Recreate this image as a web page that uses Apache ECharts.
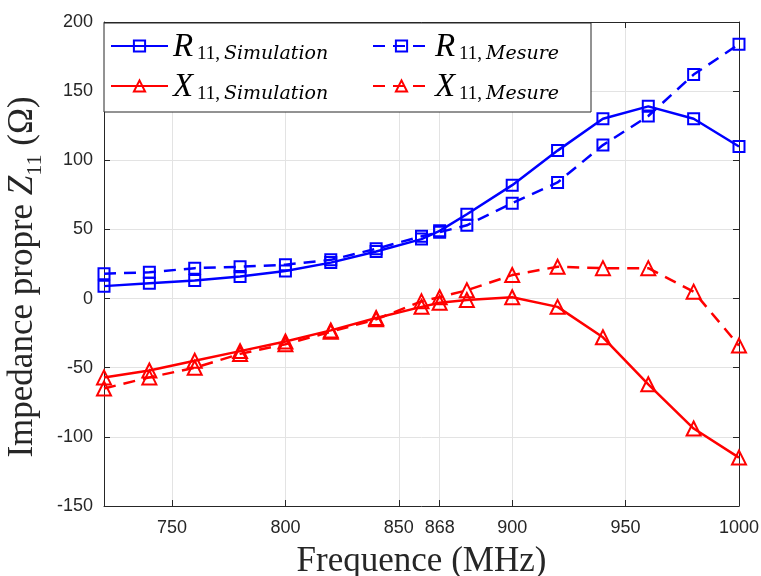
<!DOCTYPE html>
<html><head><meta charset="utf-8">
<script src="https://cdn.jsdelivr.net/npm/echarts@6/dist/echarts.min.js"></script>
<style>html,body{margin:0;padding:0;background:#fff}#c{width:761px;height:576px}</style>
</head><body><div id="c"></div>
<script>
const freq = [720,740,760,780,800,820,840,860,868,880,900,920,940,960,980,1000];
const rSim = [9,11,13,16,20,26,34,43,49,61,82,107,130,139,130,110];
const rMes = [18,19,22,23,24.5,28,36,45,48,53,69,84,111,132,162,184];
const xSim = [-57,-52,-45,-38,-31,-23,-14,-6,-3,-1,1,-6,-28,-62,-94,-115];
const xMes = [-65,-57,-50,-40,-33,-24,-15,-2,1,6,17,23,22,22,5,-34];
const xTicks = [750,800,850,868,900,950,1000];
const xMin = 720, xMax = 1000;
const yMin = -150, yMax = 200, yStep = 50;
const names = ['R|Simulation','X|Simulation','R|Mesure','X|Mesure'];

const BLUE = '#0000ff', RED = '#ff0000', AX = '#262626';
const SERIF = 'Liberation Serif';
const SUBIT = 'DejaVu Serif';

function mk(name, vals, color, symbol, dashed) {
  return {
    name: name, type: 'line', clip: false,
    data: freq.map((f, i) => [f, vals[i]]),
    symbol: symbol, symbolSize: symbol === 'rect' ? 11 : 14,
    lineStyle: { color: color, width: 2.5, type: dashed ? [12, 8] : 'solid' },
    itemStyle: { color: 'rgba(0,0,0,0)', borderColor: color, borderWidth: 2 },
    emphasis: { disabled: true }
  };
}

const chart = echarts.init(document.getElementById('c'), null, { renderer: 'canvas' });
const tickLab = { color: AX, fontFamily: 'Liberation Sans', fontSize: 18 };
chart.setOption({
  animation: false,
  backgroundColor: '#fff',
  grid: { left: 104, right: 22, top: 22, bottom: 70, outerBoundsMode: 'none' },
  xAxis: [{
    type: 'value', min: xMin, max: xMax, position: 'bottom',
    axisLine: { show: true, onZero: false, lineStyle: { color: AX, width: 1 } },
    axisTick: { show: true, inside: true, length: 6, customValues: xTicks, lineStyle: { color: AX } },
    axisLabel: Object.assign({ customValues: xTicks, margin: 13, formatter: v => String(v) }, tickLab),
    splitLine: { show: true, lineStyle: { color: '#e3e3e3', width: 1 } },
    name: 'Frequence (MHz)', nameLocation: 'middle', nameGap: 38,
    nameTextStyle: { fontFamily: SERIF, fontSize: 35, color: AX, lineHeight: 35 }
  }, {
    type: 'value', min: xMin, max: xMax, position: 'top',
    axisLine: { show: true, onZero: false, lineStyle: { color: AX, width: 1 } },
    axisTick: { show: true, inside: true, length: 6, customValues: xTicks, lineStyle: { color: AX } },
    axisLabel: { show: false }, splitLine: { show: false }
  }],
  yAxis: [{
    type: 'value', min: yMin, max: yMax, interval: yStep, position: 'left',
    axisLine: { show: true, onZero: false, lineStyle: { color: AX, width: 1 } },
    axisTick: { show: true, inside: true, length: 6, lineStyle: { color: AX } },
    axisLabel: Object.assign({ margin: 11 }, tickLab),
    splitLine: { show: true, lineStyle: { color: '#e3e3e3', width: 1 } },
    name: '{n|Impedance propre }{z|Z}{zs|11}{n| (Ω)}', nameLocation: 'middle', nameGap: 60, nameRotate: 90,
    nameTextStyle: {
      color: AX, padding: [0, 26, 0, 0],
      rich: {
        n: { fontFamily: SERIF, fontSize: 35, color: AX, verticalAlign: 'bottom', lineHeight: 36 },
        z: { fontFamily: SERIF, fontSize: 35, fontStyle: 'italic', color: AX, verticalAlign: 'bottom', lineHeight: 36 },
        zs: { fontFamily: SERIF, fontSize: 22, color: AX, verticalAlign: 'bottom', lineHeight: 22, padding: [0,0,-6,0] }
      }
    }
  }, {
    type: 'value', min: yMin, max: yMax, interval: yStep, position: 'right',
    axisLine: { show: true, onZero: false, lineStyle: { color: AX, width: 1 } },
    axisTick: { show: true, inside: true, length: 6, lineStyle: { color: AX } },
    axisLabel: { show: false }, splitLine: { show: false }
  }],
  legend: {
    orient: 'vertical', left: 104, top: 23, height: 100,
    data: names,
    padding: [8, 4, 8, 6], itemGap: 7, itemWidth: 57, itemHeight: 14,
    backgroundColor: '#fff', borderColor: AX, borderWidth: 1,
    formatter: function (name) {
      const p = name.split('|');
      return '{m|' + p[0] + '}{s|11,}{' + (p[1] === 'Simulation' ? 'iS' : 'iM') + '|' + p[1] + '}';
    },
    textStyle: {
      color: '#000',
      rich: {
        m: { fontFamily: SERIF, fontStyle: 'italic', fontSize: 33, color: '#000', verticalAlign: 'bottom', lineHeight: 36, width: 24 },
        s: { fontFamily: SERIF, fontSize: 19, color: '#000', verticalAlign: 'bottom', lineHeight: 18, width: 27 },
        iS: { fontFamily: SUBIT, fontStyle: 'italic', fontSize: 19, color: '#000', verticalAlign: 'bottom', lineHeight: 18, width: 141 },
        iM: { fontFamily: SUBIT, fontStyle: 'italic', fontSize: 19, color: '#000', verticalAlign: 'bottom', lineHeight: 18, width: 101 }
      }
    }
  },
  series: [
    mk(names[0], rSim, BLUE, 'rect', false),
    mk(names[2], rMes, BLUE, 'rect', true),
    mk(names[1], xSim, RED, 'triangle', false),
    mk(names[3], xMes, RED, 'triangle', true)
  ]
});
</script>
</body></html>
